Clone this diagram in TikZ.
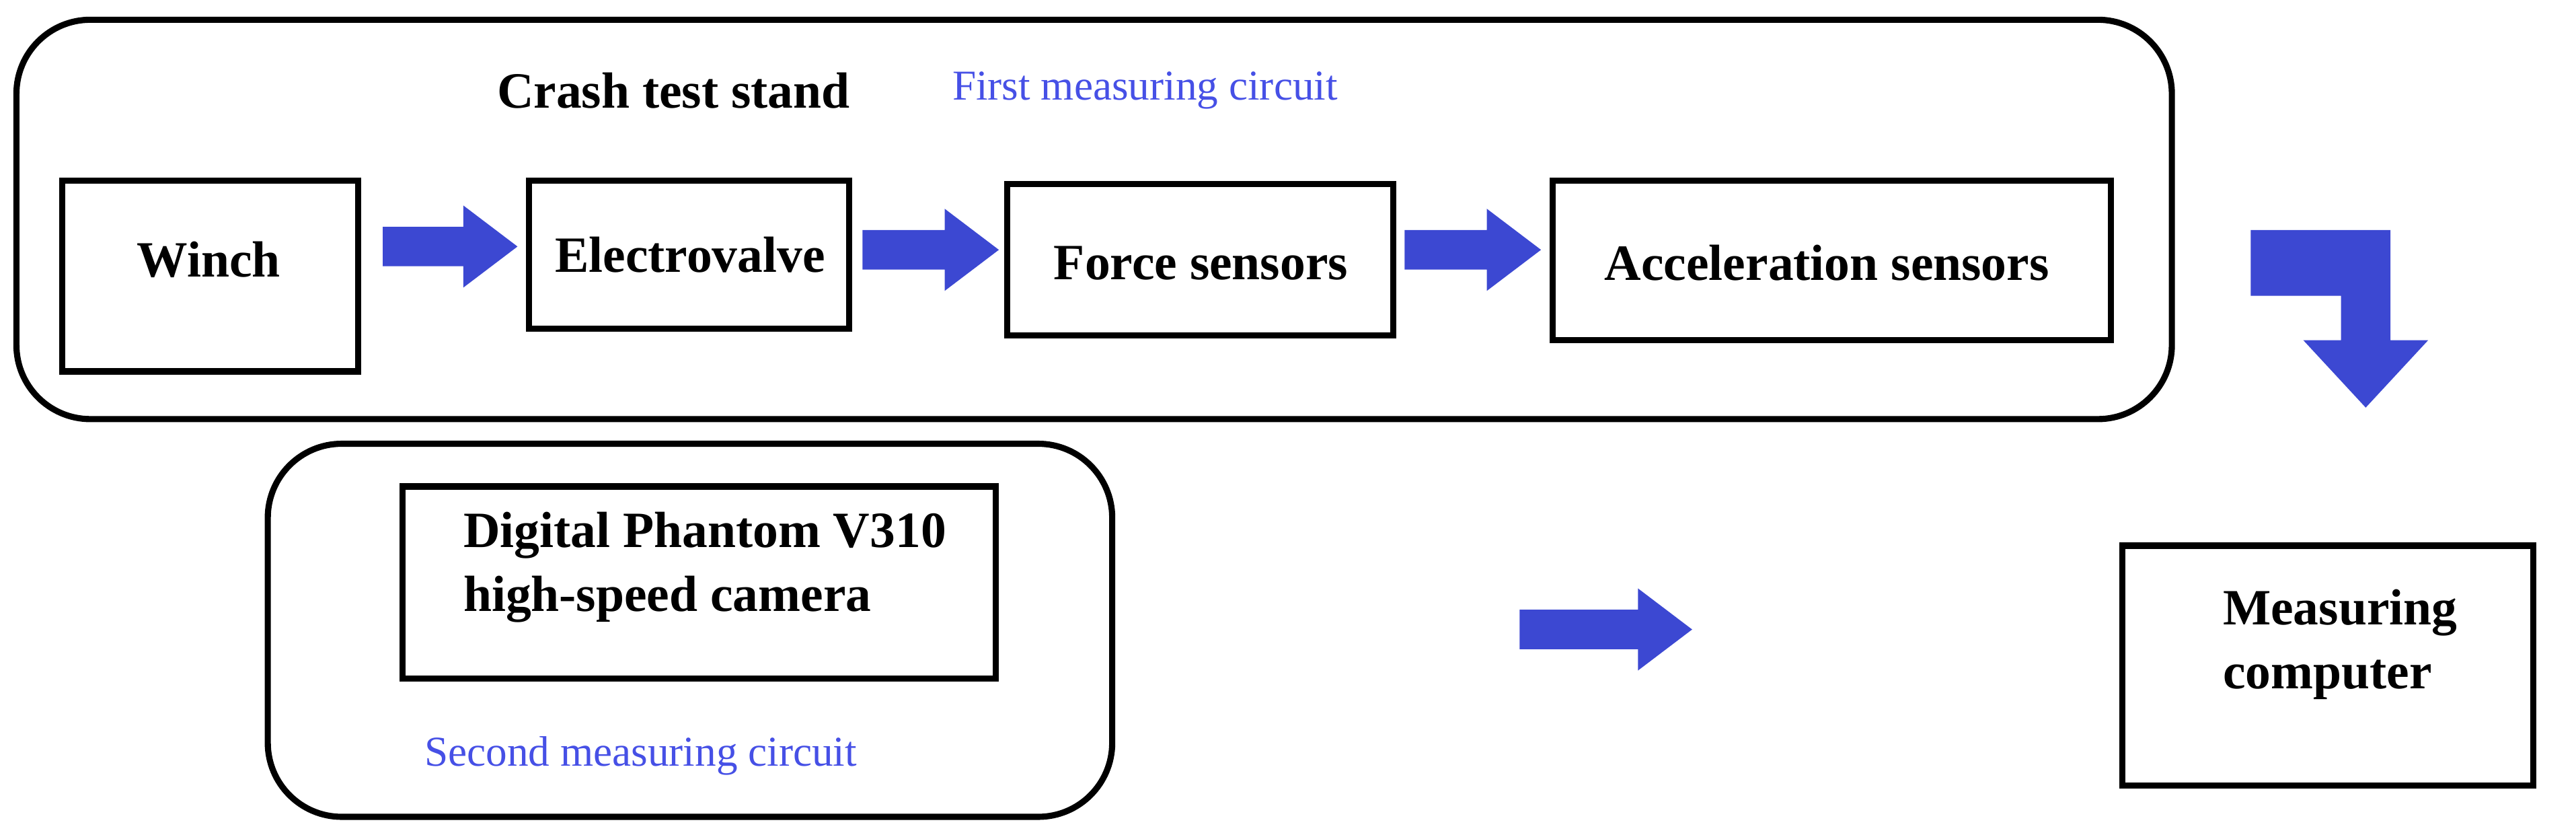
\documentclass[tikz,border=0pt]{standalone}
\usepackage{fontspec}
\setmainfont{Liberation Serif}
\definecolor{arr}{RGB}{60,72,210}
\definecolor{lbl}{RGB}{70,80,230}
\begin{document}
\begin{tikzpicture}[x=0.02443cm,y=-0.02443cm,
  frame/.style={draw,line width=2.6pt,rounded corners=1.1cm},
  box/.style={draw,line width=2.6pt},
  ttl/.style={font=\fontsize{21.5}{27}\selectfont\bfseries},
  lab/.style={font=\fontsize{18}{22}\selectfont,text=lbl},
  blk/.style={fill=arr}]
\useasboundingbox (0,0) rectangle (1568,508);
\fill[white] (0,0) rectangle (1568,508);
\draw[frame] (10,12) rectangle (1322,255);
\draw[frame] (163,270) rectangle (677,497);
\node[ttl] (t1) at (410,55) {Crash test stand};
\node[lab] (l1) at (697,55) {First measuring circuit};
\node[lab] (l2) at (390,460) {Second measuring circuit};
\draw[box] (38,110) rectangle (218,226); \node[ttl] (winch) at (127,158) {Winch};
\draw[box] (322,110) rectangle (517,200); \node[ttl] (ev) at (420,155) {Electrovalve};
\draw[box] (613,112) rectangle (848,204); \node[ttl] (fs) at (731,160) {Force sensors};
\draw[box] (945,110) rectangle (1285,207); \node[ttl] (as) at (1112,160) {Acceleration sensors};
\draw[box] (245,296) rectangle (606,413);
\node[ttl,align=left,anchor=west] (cam) at (277,345) {Digital Phantom V310\\high-speed camera};
\draw[box] (1292,332) rectangle (1542,478);
\node[ttl,align=left,anchor=west] (mc) at (1348,392) {Measuring\\computer};
\foreach \a/\b/\y in {233/315/150,525/608/152,855/938/152,925/1030/383}{
  \fill[blk] (\a,\y-12) -- (\b-33,\y-12) -- (\b-33,\y-25) -- (\b,\y) -- (\b-33,\y+25) -- (\b-33,\y+12) -- (\a,\y+12) -- cycle;}
\fill[blk] (1370,140) -- (1455,140) -- (1455,207) -- (1478,207) -- (1440,248) -- (1402,207) -- (1425,207) -- (1425,180) -- (1370,180) -- cycle;
\end{tikzpicture}
\end{document}
